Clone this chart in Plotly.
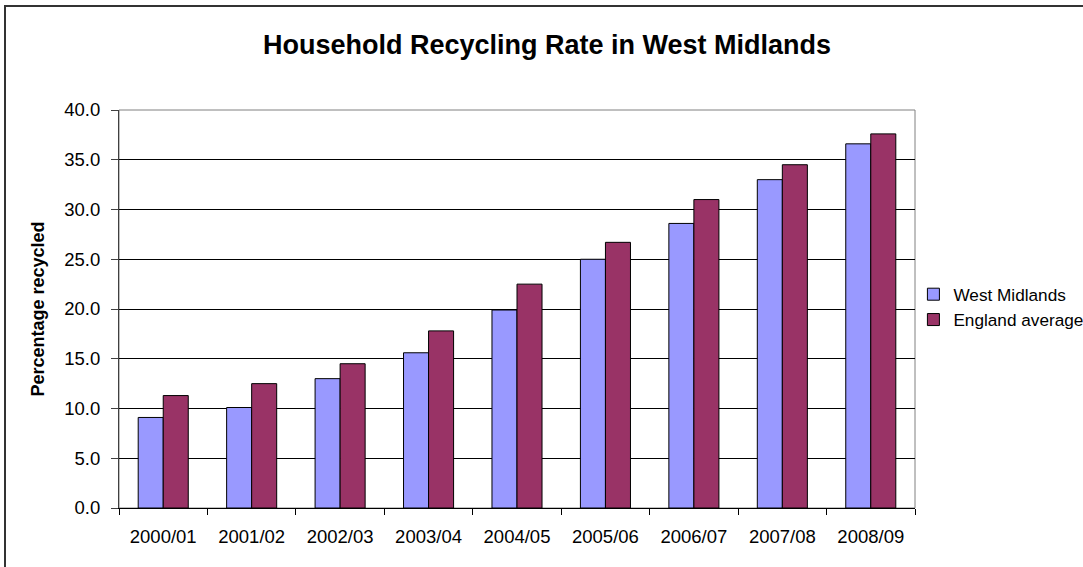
import plotly.graph_objects as go

years = ["2000/01", "2001/02", "2002/03", "2003/04", "2004/05",
         "2005/06", "2006/07", "2007/08", "2008/09"]
west_midlands = [9.1, 10.1, 13.0, 15.6, 19.9, 25.0, 28.6, 33.0, 36.6]
england_average = [11.3, 12.5, 14.5, 17.8, 22.5, 26.7, 31.0, 34.5, 37.6]

fig = go.Figure()
fig.add_trace(go.Bar(
    x=years, y=west_midlands, name="West Midlands",
    marker=dict(color="#9999FF", line=dict(color="#000000", width=1)),
))
fig.add_trace(go.Bar(
    x=years, y=england_average, name="England average",
    marker=dict(color="#993366", line=dict(color="#000000", width=1)),
))

W, H = 1083, 567
ml, mr, mt, mb = 119, 168, 110, 59
pw, ph = W - ml - mr, H - mt - mb

# outer chart frame (left and top edges visible)
fig.add_shape(type="rect", xref="paper", yref="paper",
              x0=(5 - ml) / pw, x1=(W + 10 - ml) / pw,
              y0=-(mb + 10) / ph, y1=1 + (mt - 6) / ph,
              line=dict(color="#333333", width=2), layer="below")
# plot area frame
fig.add_shape(type="rect", xref="paper", yref="paper",
              x0=0, x1=1, y0=0, y1=1,
              line=dict(color="#808080", width=1), layer="below")

fig.update_layout(
    width=W, height=H,
    margin=dict(l=ml, r=mr, t=mt, b=mb, autoexpand=False),
    paper_bgcolor="white", plot_bgcolor="white",
    font=dict(family="Liberation Sans, Arial, sans-serif", size=18.5, color="#000000"),
    title=dict(text="<b>Household Recycling Rate in West Midlands</b>",
               font=dict(size=27, color="#000000"),
               x=547 / W, xanchor="center", xref="container",
               y=1 - 45 / H, yanchor="middle", yref="container"),
    barmode="group", bargap=0.434, bargroupgap=0,
    showlegend=True,
    legend=dict(x=0.998, xanchor="left", y=0.505, yanchor="middle",
                font=dict(size=17.2), bgcolor="rgba(0,0,0,0)",
                itemwidth=30, tracegroupgap=0),
    xaxis=dict(showline=True, linecolor="#000000", linewidth=1,
               ticks="outside", ticklen=6, tickcolor="#000000",
               tickson="boundaries", showgrid=False,
               ticklabelstandoff=12,
               tickfont=dict(size=18.5)),
    yaxis=dict(range=[0, 40], dtick=5, tickformat=".1f",
               showline=True, linecolor="#404040", linewidth=1,
               ticks="outside", ticklen=7, tickcolor="#404040",
               ticklabelstandoff=7,
               showgrid=True, gridcolor="#000000", gridwidth=1,
               zeroline=False, tickfont=dict(size=18.5),
               title=dict(text="<b>Percentage recycled</b>",
                          font=dict(size=18), standoff=14)),
)

fig.write_html("out.html")
